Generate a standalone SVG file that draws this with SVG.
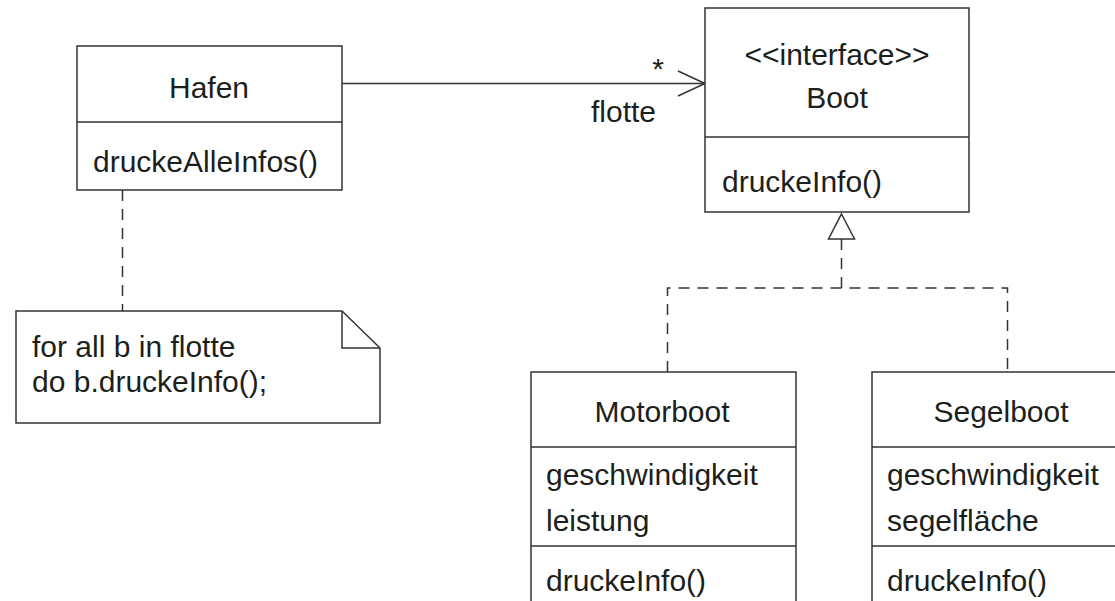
<svg xmlns="http://www.w3.org/2000/svg" width="1115" height="601" viewBox="0 0 1115 601">
<style>
.box{fill:#fff;stroke:#333;stroke-width:1.5}
.ln{fill:none;stroke:#333;stroke-width:1.5}
.dash{fill:none;stroke:#333;stroke-width:1.5;stroke-dasharray:11 8}
text{font-family:"Liberation Sans",Arial,sans-serif;font-size:30px;fill:#1c1f1c}
.c{text-anchor:middle}
</style>
<rect width="1115" height="601" fill="#fff"/>
<g id="connectors">
<line class="ln" x1="342" y1="83.5" x2="705" y2="83.5"/>
<polyline class="ln" points="678,71 705,83.5 678,96"/>
<text class="c" x="658" y="79">*</text>
<text x="591" y="122">flotte</text>
<line class="dash" x1="122.5" y1="190" x2="122.5" y2="311"/>
<polygon class="box" points="841.5,214 854.5,239 828.5,239"/>
<polyline class="dash" points="841.5,239 841.5,288"/>
<polyline class="dash" points="667.5,372 667.5,288 1007.5,288 1007.5,372"/>
</g>
<g id="hafen">
<rect class="box" x="77" y="46" width="265" height="144"/>
<line class="ln" x1="77" y1="122" x2="342" y2="122"/>
<text class="c" x="209" y="98">Hafen</text>
<text x="93" y="172">druckeAlleInfos()</text>
</g>
<g id="boot">
<rect class="box" x="705" y="8" width="264" height="204"/>
<line class="ln" x1="705" y1="137" x2="969" y2="137"/>
<text class="c" x="837" y="65">&lt;&lt;interface&gt;&gt;</text>
<text class="c" x="837" y="108">Boot</text>
<text x="722" y="192">druckeInfo()</text>
</g>
<g id="note">
<path class="box" d="M16,311 H342 L380,348 V423 H16 Z"/>
<polyline class="ln" points="342,311 342,348 380,348"/>
<text x="32" y="357">for all b in flotte</text>
<text x="32" y="392">do b.druckeInfo();</text>
</g>
<g id="motorboot">
<rect class="box" x="531" y="372" width="265" height="240"/>
<line class="ln" x1="531" y1="447" x2="796" y2="447"/>
<line class="ln" x1="531" y1="546" x2="796" y2="546"/>
<text class="c" x="662" y="422">Motorboot</text>
<text x="546" y="485">geschwindigkeit</text>
<text x="546" y="531">leistung</text>
<text x="546" y="591">druckeInfo()</text>
</g>
<g id="segelboot">
<rect class="box" x="872" y="372" width="265" height="240"/>
<line class="ln" x1="872" y1="447" x2="1137" y2="447"/>
<line class="ln" x1="872" y1="546" x2="1137" y2="546"/>
<text class="c" x="1001" y="422">Segelboot</text>
<text x="887" y="485">geschwindigkeit</text>
<text x="887" y="531">segelfläche</text>
<text x="887" y="591">druckeInfo()</text>
</g>
</svg>
